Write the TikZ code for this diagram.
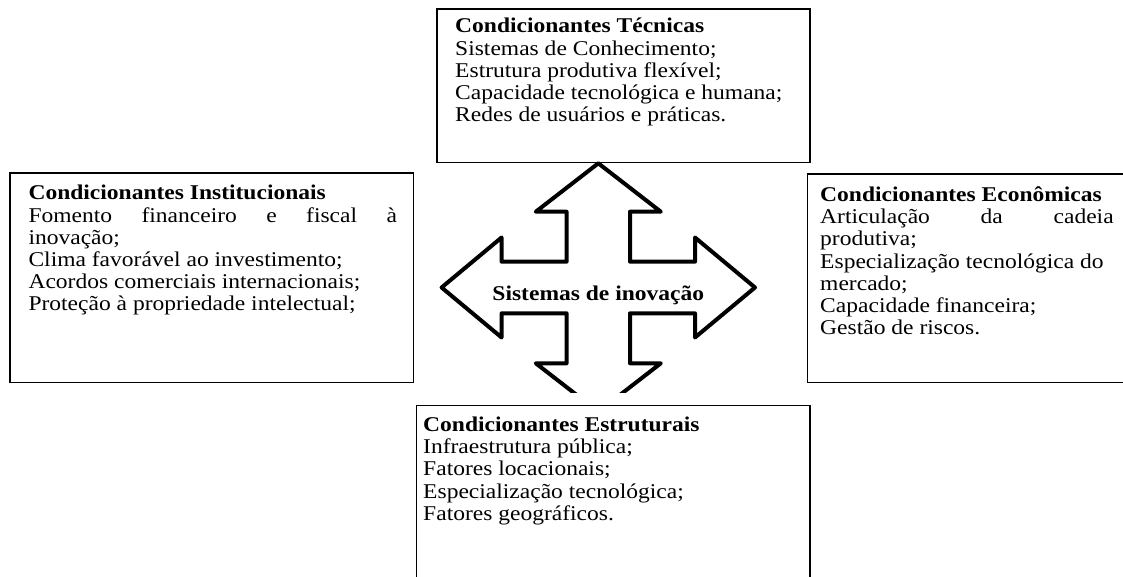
\documentclass[tikz,border=0pt]{standalone}
\usepackage{fontspec}
\setmainfont{Liberation Serif}

\newcommand{\boxfont}{\fontsize{21}{22.2}\selectfont}
\tikzset{
	condbox/.style={draw=black, line width=1.2pt},
	condtext/.style={anchor=base west, inner sep=0pt, align=justify, xscale=1.12, font=\boxfont},
	crossline/.style={draw=black, line width=4pt, line join=round, fill=white},
}

\begin{document}
\begin{tikzpicture}[x=1pt, y=-1pt]
	% page 1123 x 577
	\useasboundingbox (0,0) rectangle (1123,577);
	
	% four-way arrow, centre (598.3,287.5)
	\begin{scope}[shift={(598.3,287.5)}]
		\draw[crossline] (0,-124.2) -- (62.5,-75.8) -- (31.7,-75.8) -- (31.7,-25.8)
			-- (96.7,-25.8) -- (96.7,-50) -- (156.7,0) -- (96.7,50) -- (96.7,25.8)
			-- (31.7,25.8) -- (31.7,75.8) -- (62.5,75.8) -- (0,124.2)
			-- (-62.5,75.8) -- (-31.7,75.8) -- (-31.7,25.8) -- (-96.7,25.8)
			-- (-96.7,50) -- (-156.7,0) -- (-96.7,-50) -- (-96.7,-25.8)
			-- (-31.7,-25.8) -- (-31.7,-75.8) -- (-62.5,-75.8) -- cycle;
	\end{scope}
	\node[condtext, anchor=base, align=center] (sys) at (598.3,300) {\textbf{Sistemas de inovação}};
	
	% top box
	\draw[condbox] (437,9) rectangle (810,162.7);
	\node[condtext, text width=300pt] (tec) at (455,33) {\textbf{Condicionantes Técnicas}\\
		Sistemas de Conhecimento;\\
		Estrutura produtiva flexível;\\
		Capacidade tecnológica e humana;\\
		Redes de usuários e práticas.};
	
	% left box
	\draw[condbox] (10,173) rectangle (413.7,382.7);
	\node[condtext, text width=329pt] (inst) at (28.3,200) {\textbf{Condicionantes Institucionais}\\
		Fomento \hfill financeiro \hfill e \hfill fiscal \hfill à\\
		inovação;\\
		Clima favorável ao investimento;\\
		Acordos comerciais internacionais;\\
		Proteção à propriedade intelectual;};
	
	% right box (runs off the page)
	\draw[condbox] (807.7,174) rectangle (1135,382.7);
	\node[condtext, text width=262pt] (econ) at (820,201.5) {\textbf{Condicionantes Econômicas}\\
		Articulação \hfill da \hfill cadeia\\
		produtiva;\\
		Especialização tecnológica do\\
		mercado;\\
		Capacidade financeira;\\
		Gestão de riscos.};
	
	% bottom box (runs off the page), hides the lower tip
	\fill[white] (416.7,393) rectangle (810,590);
	\draw[condbox] (416.7,405.7) rectangle (810,590);
	\node[condtext, text width=330pt] (estr) at (423,431.5) {\textbf{Condicionantes Estruturais}\\
		Infraestrutura pública;\\
		Fatores locacionais;\\
		Especialização tecnológica;\\
		Fatores geográficos.};
\end{tikzpicture}
\end{document}
